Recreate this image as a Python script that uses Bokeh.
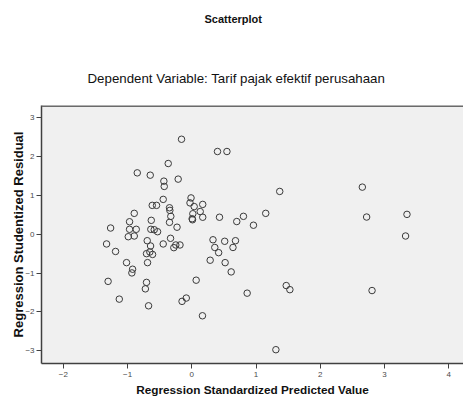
from bokeh.plotting import figure
from bokeh.models import FixedTicker, ColumnDataSource, Range1d, Title, Span
from bokeh.embed import file_html
from bokeh.resources import INLINE

title_text = "Scatterplot"
subtitle_text = "Dependent Variable: Tarif pajak efektif perusahaan"
x_label = "Regression Standardized Predicted Value"
y_label = "Regression Studentized Residual"
x_ticks = [-2, -1, 0, 1, 2, 3, 4]
y_ticks = [-3, -2, -1, 0, 1, 2, 3]

predicted = [
    -0.367, -0.849, -0.647, -0.435, -0.429, -0.445, -0.616, -0.549, -0.347, -0.342,
    -0.896, -0.327, -0.969, -0.631, -0.347, -1.264, -0.969, -0.865, -0.638, -0.585,
    -0.533, -0.989, -0.896, -0.694, -1.327, -0.445, -0.331, -0.642, -1.187, -0.705,
    -0.611, -0.653, -1.016, -0.922, -0.933, -0.689, -1.303, -0.705, -0.723, -1.129,
    -0.673, -0.280, -0.160, 0.400, 0.547, -0.212, 1.369, -0.012, -0.028, 0.037,
    0.170, 0.131, 0.016, 0.170, 0.006, 0.011, 0.431, 0.804, 0.700, 1.151,
    0.960, -0.230, -0.249, -0.184, 0.330, 0.512, 0.680, 0.358, 0.641, 0.418,
    0.286, 0.519, 0.613, 0.068, 0.862, -0.086, -0.152, 0.166, 1.470, 1.527,
    1.309, 2.655, 2.722, 3.350, 3.328, 2.806,
]
residual = [
    1.825, 1.584, 1.524, 1.370, 1.234, 0.900, 0.746, 0.746, 0.684, 0.617,
    0.540, 0.463, 0.324, 0.360, 0.308, 0.162, 0.129, 0.129, 0.129, 0.118,
    0.067, -0.062, -0.044, -0.165, -0.249, -0.249, -0.103, -0.301, -0.442, -0.499,
    -0.519, -0.455, -0.730, -0.900, -0.995, -0.730, -1.213, -1.239, -1.406, -1.671,
    -1.843, -0.344, 2.450, 2.134, 2.134, 1.422, 1.105, 0.938, 0.810, 0.715,
    0.771, 0.586, 0.530, 0.440, 0.401, 0.375, 0.440, 0.463, 0.329, 0.540,
    0.234, 0.183, -0.275, -0.275, -0.141, -0.180, -0.165, -0.339, -0.339, -0.473,
    -0.668, -0.730, -0.969, -1.183, -1.517, -1.643, -1.728, -2.100, -1.321, -1.427,
    -2.974, 1.216, 0.445, 0.514, -0.044, -1.450,
]

FONT = "Liberation Sans"

p = figure(
    width=463, height=403,
    x_range=Range1d(-2.34, 4.23), y_range=Range1d(-3.33, 3.32),
    output_backend="svg", toolbar_location=None,
    min_border_left=41, min_border_right=0, min_border_top=104, min_border_bottom=40,
    background_fill_color="#f0f0f0", border_fill_color="white",
)
p.title.visible = False
p.xgrid.visible = False
p.ygrid.visible = False
p.outline_line_color = None

# titles stacked above the frame (first added sits closest to the frame)
sub = Title(text=subtitle_text, align="left", offset=46, text_font=FONT,
            text_font_size="13.3px", text_font_style="normal", text_color="#111111",
            standoff=40)
p.add_layout(sub, "above")
spacer = Title(text=" ", text_font=FONT, text_font_size="2px", standoff=10)
p.add_layout(spacer, "above")
main = Title(text=title_text, align="left", offset=163, text_font=FONT,
             text_font_size="11px", text_font_style="bold", text_color="#111111",
             standoff=20)
p.add_layout(main, "above")

for ax in (p.xaxis[0], p.yaxis[0]):
    ax.minor_tick_line_color = None
    ax.major_tick_in = 0
    ax.major_tick_out = 5
    ax.axis_line_color = "#404040"
    ax.axis_line_width = 1.5
    ax.major_tick_line_color = "#404040"
    ax.major_label_text_font = FONT
    ax.major_label_text_font_size = "8px"
    ax.major_label_text_color = "#4a4a4a"
    ax.axis_label_text_font = FONT
    ax.axis_label_text_font_style = "bold"
    ax.axis_label_text_color = "#111111"

p.xaxis.ticker = FixedTicker(ticks=x_ticks)
p.yaxis.ticker = FixedTicker(ticks=y_ticks)
p.xaxis.axis_label = x_label
p.yaxis.axis_label = y_label
p.xaxis.axis_label_text_font_size = "11.8px"
p.yaxis.axis_label_text_font_size = "13px"
p.xaxis.major_label_standoff = 3
p.yaxis.major_label_standoff = 2
p.xaxis.axis_label_standoff = 3
p.yaxis.axis_label_standoff = -4

p.add_layout(Span(location=3.32, dimension="width", line_color="#6a6a6a", line_width=3))

src = ColumnDataSource(dict(x=predicted, y=residual))
p.scatter("x", "y", source=src, marker="circle", size=6.5, fill_color=None,
          line_color="#3a3a3a", line_width=1)

open("out.html", "w").write(file_html(p, INLINE))
